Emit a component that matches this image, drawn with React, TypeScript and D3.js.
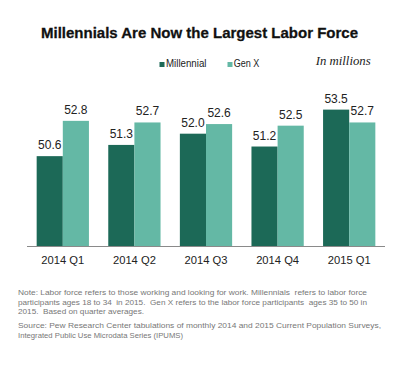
import React from "react";
import * as d3 from "d3";

const categories = ["2014 Q1", "2014 Q2", "2014 Q3", "2014 Q4", "2015 Q1"];
const seriesNames = ["Millennial", "Gen X"];
const millennial = [50.6, 51.3, 52.0, 51.2, 53.5];
const genX = [52.8, 52.7, 52.6, 52.5, 52.7];
const colors = ["#1c6957", "#64b8a5"];

const noteLines = [
  "Note: Labor force refers to those working and looking for work. Millennials  refers to labor force",
  "participants ages 18 to 34  in 2015.  Gen X refers to the labor force participants  ages 35 to 50 in",
  "2015.  Based on quarter averages.",
];
const sourceLines = [
  "Source: Pew Research Center tabulations of monthly 2014 and 2015 Current Population Surveys,",
  "Integrated Public Use Microdata Series (IPUMS)",
];
const noteWidths = [349, 349, 126];
const sourceWidths = [363, 165];

export default function App() {
  const W = 407, H = 370;
  const x0 = d3.scaleBand<string>().domain(categories).range([27, 385]).paddingInner(0.27).paddingOuter(0.135);
  const x1 = d3.scaleBand<string>().domain(seriesNames).range([0, x0.bandwidth()]).padding(0);
  const y = d3.scaleLinear().domain([45, 54]).range([246, 101.6]);
  const data = [millennial, genX];
  const font = "'Liberation Sans', Arial, sans-serif";

  return (
    <svg width={W} height={H} style={{ position: "absolute", left: 0, top: 0, background: "#fff" }}>
      <rect width={W} height={H} fill="#fff" />
      <text x={199.5} y={37.7} textAnchor="middle" fontFamily={font} fontWeight="bold" fontSize={15.5}
        textLength={317} lengthAdjust="spacingAndGlyphs" fill="#111" stroke="#111" strokeWidth={0.3}>
        Millennials Are Now the Largest Labor Force
      </text>
      {/* legend */}
      <rect x={159.5} y={62} width={5} height={5} fill={colors[0]} />
      <text x={166} y={67.3} fontFamily={font} fontSize={11} fill="#222" textLength={40.5} lengthAdjust="spacingAndGlyphs">Millennial</text>
      <rect x={227.5} y={62} width={5} height={5} fill={colors[1]} />
      <text x={233.7} y={67.3} fontFamily={font} fontSize={11} fill="#222" textLength={25.6} lengthAdjust="spacingAndGlyphs">Gen X</text>
      <text x={315.7} y={65.3} fontFamily="'Liberation Serif', 'DejaVu Serif', serif" fontStyle="italic" fontSize={13}
        fill="#222" textLength={55} lengthAdjust="spacingAndGlyphs">In millions</text>
      {/* bars */}
      {categories.map((c, i) => (
        <g key={c} transform={`translate(${x0(c)},0)`}>
          {seriesNames.map((s, j) => {
            const v = data[j][i];
            const bx = x1(s)!;
            return (
              <g key={s}>
                <rect x={bx} y={y(v)} width={x1.bandwidth()} height={y(45) - y(v)} fill={colors[j]} />
                <text x={bx + x1.bandwidth() / 2} y={y(v) - 7} textAnchor="middle" fontFamily={font}
                  fontSize={12} fill="#222">{v.toFixed(1)}</text>
              </g>
            );
          })}
          <text x={x0.bandwidth() / 2} y={264.3} textAnchor="middle" fontFamily={font} fontSize={11.2} fill="#222">{c}</text>
        </g>
      ))}
      <line x1={27} x2={385} y1={246.5} y2={246.5} stroke="#8a8a8a" strokeWidth={1} />
      {/* notes */}
      {noteLines.map((t, i) => (
        <text key={i} x={18} y={295 + i * 9.5} fontFamily={font} fontSize={7.8} fill="#777"
          textLength={noteWidths[i]} lengthAdjust="spacingAndGlyphs" style={{ whiteSpace: "pre" }}>{t}</text>
      ))}
      {sourceLines.map((t, i) => (
        <text key={i} x={18} y={328 + i * 9.5} fontFamily={font} fontSize={7.8} fill="#777"
          textLength={sourceWidths[i]} lengthAdjust="spacingAndGlyphs" style={{ whiteSpace: "pre" }}>{t}</text>
      ))}
    </svg>
  );
}
